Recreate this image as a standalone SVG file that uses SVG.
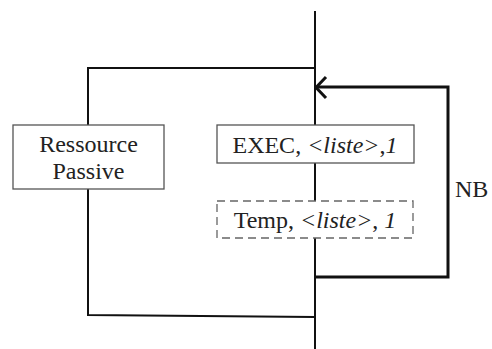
<svg xmlns="http://www.w3.org/2000/svg" width="492" height="349" viewBox="0 0 492 349">
<style>
text{font-family:'Liberation Serif','DejaVu Serif',serif;font-size:24px;fill:#222;}
.i{font-style:italic;}
.ln{stroke:#111;stroke-width:2;fill:none;}
.thick{stroke:#111;stroke-width:3;fill:none;}
.box{fill:#fff;stroke:#555;stroke-width:1.3;}
.dbox{fill:#fff;stroke:#666;stroke-width:1.3;stroke-dasharray:8,5;}
</style>
<rect width="492" height="349" fill="#fff"/>
<g id="connectors">
<path class="ln" d="M315,11 V349"/>
<path class="ln" d="M315,68 H88 V315 L315,317"/>
<path class="thick" d="M315,277 H448 V87 H317"/>
<path class="thick" d="M326,77 L316,87.5 L326,98" stroke-linejoin="miter"/>
</g>
<g id="ressource">
<rect class="box" x="13" y="125" width="151" height="64"/>
<text x="88.5" y="152" text-anchor="middle">Ressource</text>
<text x="88.5" y="179" text-anchor="middle">Passive</text>
</g>
<g id="exec">
<rect class="box" x="217" y="125" width="197" height="38"/>
<text x="315" y="153" text-anchor="middle">EXEC, <tspan class="i">&lt;liste&gt;</tspan>,<tspan class="i">1</tspan></text>
</g>
<g id="temp">
<rect class="dbox" x="217" y="201" width="196" height="37"/>
<text x="315" y="228" text-anchor="middle">Temp, <tspan class="i">&lt;liste&gt;</tspan>, <tspan class="i">1</tspan></text>
</g>
<g id="nb">
<text x="455" y="197">NB</text>
</g>
</svg>
